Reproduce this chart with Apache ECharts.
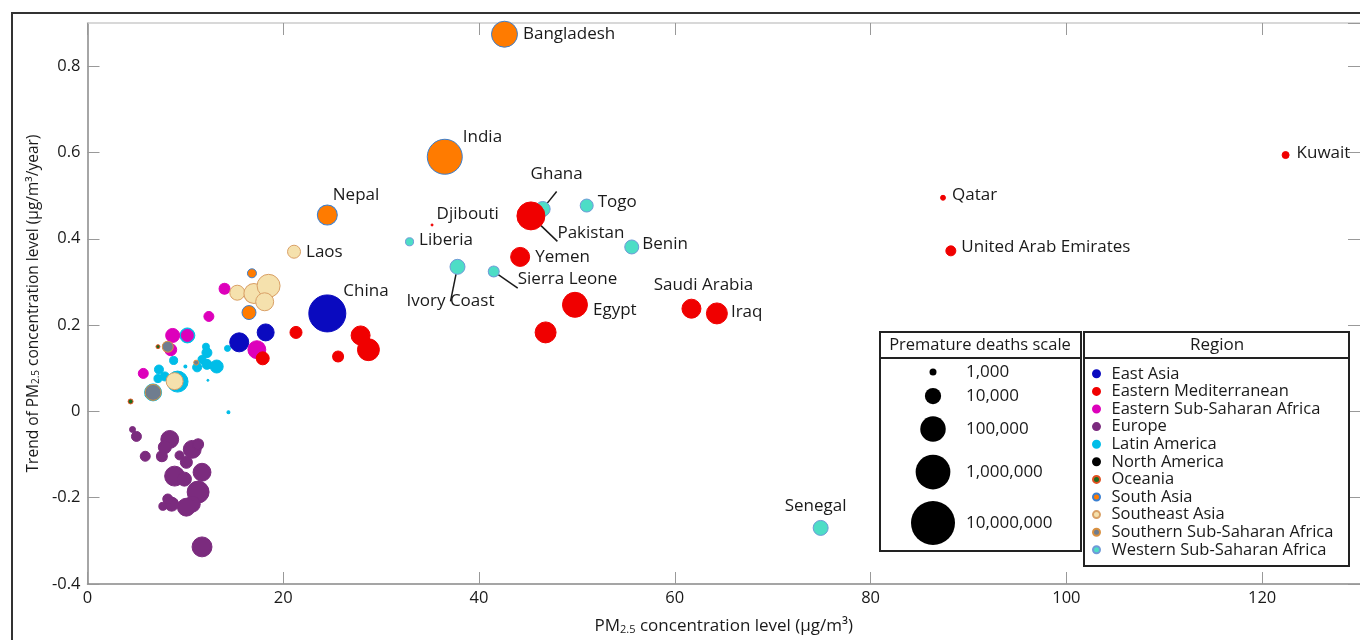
<!DOCTYPE html>
<html>
<head>
<meta charset="utf-8">
<script src="https://cdn.jsdelivr.net/npm/echarts@6/dist/echarts.min.js"></script>
<style>html,body{margin:0;padding:0;background:#fff}#chart{width:1360px;height:640px}</style>
</head>
<body>
<div id="chart"></div>
<script>
// ---- data: [PM2.5 level, trend, premature deaths, country label] ----
const eastAsia = [[24.5,0.227,1750000,'China'],[15.5,0.16,20000,''],[18.2,0.183,12000,'']];
const easternMed = [[45.3,0.453,185000,'Pakistan'],[35.2,0.432,290,'Djibouti'],[44.2,0.358,19800,'Yemen'],[49.8,0.247,88000,'Egypt'],[46.8,0.183,32500,''],[61.7,0.238,19800,'Saudi Arabia'],[64.3,0.227,32500,'Iraq'],[87.4,0.495,600,'Qatar'],[88.2,0.372,2100,'United Arab Emirates'],[122.4,0.594,1000,'Kuwait'],[17.9,0.123,4450,''],[21.3,0.183,3500,''],[27.9,0.176,19800,''],[28.7,0.143,41000,''],[25.6,0.127,2700,'']];
const easternSSA = [[14.0,0.284,2700,''],[12.4,0.22,2100,''],[8.7,0.176,5700,''],[10.2,0.176,3500,''],[8.5,0.143,3500,''],[5.7,0.088,2100,''],[17.3,0.143,15000,'']];
const europe = [[4.6,-0.042,780,''],[5.0,-0.058,2100,''],[5.9,-0.104,2100,''],[7.6,-0.104,2700,''],[8.4,-0.065,15000,''],[7.9,-0.083,4450,''],[9.4,-0.102,1650,''],[10.7,-0.088,15000,''],[11.3,-0.076,2700,''],[10.1,-0.118,3500,''],[11.7,-0.141,15000,''],[8.9,-0.150,25000,''],[9.9,-0.157,5700,''],[11.3,-0.187,41000,''],[10.7,-0.215,9400,''],[10.1,-0.222,15000,''],[8.6,-0.215,5700,''],[8.2,-0.203,2100,''],[7.7,-0.220,1300,''],[11.7,-0.314,25000,'']];
const latinAmerica = [[10.2,0.176,7300,''],[8.8,0.118,1300,''],[7.3,0.097,1650,''],[7.2,0.076,1300,''],[7.9,0.081,1650,''],[9.2,0.069,32500,''],[6.7,0.044,12000,''],[6.1,0.037,470,''],[10.0,0.104,370,''],[12.1,0.150,1000,''],[12.2,0.136,2100,''],[11.7,0.120,1300,''],[11.2,0.102,1650,''],[12.2,0.109,2100,''],[13.2,0.104,4450,''],[12.3,0.072,290,''],[14.3,0.146,780,''],[14.4,-0.002,370,'']];
const northAmerica = [];
const oceania = [[7.2,0.150,470,''],[4.4,0.023,600,'']];
const southAsia = [[42.6,0.874,113000,'Bangladesh'],[36.5,0.59,1066000,'India'],[24.5,0.455,25400,'Nepal'],[16.5,0.229,5700,''],[16.8,0.32,1650,'']];
const southeastAsia = [[21.1,0.37,4450,'Laos'],[15.3,0.275,7300,''],[17.0,0.273,25400,''],[18.5,0.291,53500,''],[18.1,0.254,15400,''],[8.9,0.07,12000,'']];
const southernSSA = [[8.2,0.150,2700,''],[6.7,0.044,9400,''],[11.1,0.113,600,'']];
const westernSSA = [[46.5,0.469,7300,'Ghana'],[51.0,0.477,4450,'Togo'],[32.9,0.393,1300,'Liberia'],[55.6,0.381,5700,'Benin'],[37.8,0.335,7300,'Ivory Coast'],[41.5,0.324,2700,'Sierra Leone'],[74.9,-0.27,7300,'Senegal']];

const regionNames = ['East Asia','Eastern Mediterranean','Eastern Sub-Saharan Africa','Europe','Latin America','North America','Oceania','South Asia','Southeast Asia','Southern Sub-Saharan Africa','Western Sub-Saharan Africa'];
const regionData = [eastAsia, easternMed, easternSSA, europe, latinAmerica, northAmerica, oceania, southAsia, southeastAsia, southernSSA, westernSSA];
const scaleDeaths = [1000, 10000, 100000, 1000000, 10000000];
const scaleLabels = ['1,000','10,000','100,000','1,000,000','10,000,000'];
const xTicks = {min:0, max:130, interval:20};
const yTicks = {min:-0.4, max:0.9, interval:0.2};

// ---- styles ----
const FONT = 'Open Sans';
const regionStyle = [
  {color:'#0a0abf', border:'#0a0abf', z:2},
  {color:'#f00000', border:'#f00000', z:3},
  {color:'#dd00bb', border:'#dd00bb', z:2},
  {color:'#7b2b7e', border:'#7b2b7e', z:2},
  {color:'#00bde8', border:'#00bde8', z:1},
  {color:'#000000', border:'#000000', z:2},
  {color:'#1f6b1f', border:'#e05020', z:2},
  {color:'#ff7b00', border:'#3a7fd0', z:2},
  {color:'#f5e1ad', border:'#d9a066', z:2},
  {color:'#6f7d8f', border:'#d99040', z:2},
  {color:'#4dddc6', border:'#6f9ad8', z:2}
];
const labelCfg = {
  'Bangladesh':{pos:'right', off:[0,0]},
  'India':{pos:'right', off:[-5,-20]},
  'Nepal':{pos:'right', off:[-10,-20]},
  'Laos':{pos:'right', off:[0,0]},
  'China':{pos:'right', off:[-8,-22]},
  'Ghana':{pos:'top', off:[14,-13], line:true},
  'Pakistan':{pos:'right', off:[7,17], line:true},
  'Djibouti':{pos:'right', off:[-2,-11]},
  'Togo':{pos:'right', off:[-1,-3]},
  'Liberia':{pos:'right', off:[0,-2]},
  'Benin':{pos:'right', off:[-2,-3]},
  'Yemen':{pos:'right', off:[0,0]},
  'Ivory Coast':{pos:'bottom', off:[-7,13], line:true},
  'Sierra Leone':{pos:'right', off:[13,8], line:true},
  'Egypt':{pos:'right', off:[0,5]},
  'Saudi Arabia':{pos:'top', off:[12,0]},
  'Iraq':{pos:'right', off:[-2,-1]},
  'Qatar':{pos:'right', off:[1,-3]},
  'United Arab Emirates':{pos:'right', off:[0,-4]},
  'Kuwait':{pos:'right', off:[2,-2]},
  'Senegal':{pos:'top', off:[-5,0]}
};
const sizeOf = d => Math.max(2, 7 + 9.25 * Math.log10(d / 1000));

function mkData(arr){
  return arr.map(p => {
    const item = {value:[p[0], p[1], p[2]], name:p[3]};
    const c = labelCfg[p[3]];
    if (c) {
      item.label = {show:true, position:c.pos, offset:c.off};
      if (c.line) item.labelLine = {show:true};
    }
    return item;
  });
}

const series = regionNames.map((name, i) => ({
  name: name,
  type: 'scatter',
  z: regionStyle[i].z,
  data: mkData(regionData[i]),
  symbolSize: v => sizeOf(v[2]),
  itemStyle: {color: regionStyle[i].color, borderColor: regionStyle[i].border, borderWidth: 1, opacity: 1},
  label: {show:false, formatter:'{b}', fontFamily:FONT, fontSize:17, color:'#1a1a1a', distance:5},
  labelLine: {show:false, lineStyle:{color:'#1a1a1a', width:1.5}},
  emphasis: {disabled:true}
}));

const axisTick = {inside:true, length:12, lineStyle:{color:'#999', width:1}};
const graphics = [
  {type:'rect', shape:{x:12, y:13, width:1400, height:700}, style:{fill:'none', stroke:'#333', lineWidth:2}, silent:true},
  {type:'rect', shape:{x:880, y:332, width:201, height:219}, style:{fill:'#fff', stroke:'#222', lineWidth:2}, z:5},
  {type:'line', shape:{x1:880, y1:358, x2:1081, y2:358}, style:{stroke:'#222', lineWidth:2}, z:6},
  {type:'text', x:980, y:345, style:{text:'Premature deaths scale', font:'16.5px "Open Sans"', fill:'#1a1a1a', align:'center', verticalAlign:'middle'}, z:6},
  {type:'rect', shape:{x:1084, y:332, width:265, height:234}, style:{fill:'#fff', stroke:'#222', lineWidth:2}, z:5},
  {type:'line', shape:{x1:1084, y1:358, x2:1349, y2:358}, style:{stroke:'#222', lineWidth:2}, z:6},
  {type:'text', x:1217, y:345, style:{text:'Region', font:'17px "Open Sans"', fill:'#1a1a1a', align:'center', verticalAlign:'middle'}, z:6}
];
const scaleY = [372, 396, 429, 472, 523];
scaleDeaths.forEach((d, i) => {
  graphics.push({type:'circle', shape:{cx:933, cy:scaleY[i], r:sizeOf(d)/2}, style:{fill:'#000'}, z:6});
  graphics.push({type:'text', x:966, y:scaleY[i], style:{text:scaleLabels[i], font:'17px "Open Sans"', fill:'#1a1a1a', align:'left', verticalAlign:'middle'}, z:6});
});

const nameRich = {
  a:{fontSize:15.5, fontFamily:FONT, color:'#1a1a1a', verticalAlign:'bottom', lineHeight:19},
  s:{fontSize:10, fontFamily:FONT, color:'#1a1a1a', verticalAlign:'bottom', lineHeight:19}
};
const nameRichX = {
  a:{fontSize:17, fontFamily:FONT, color:'#1a1a1a', verticalAlign:'bottom', lineHeight:19},
  s:{fontSize:11, fontFamily:FONT, color:'#1a1a1a', verticalAlign:'bottom', lineHeight:19}
};

const option = {
  animation: false,
  backgroundColor: '#fff',
  textStyle: {fontFamily: FONT},
  grid: {left: 87.5, top: 23, right: -5, bottom: 55, containLabel: false},
  xAxis: [
    {type:'value', position:'bottom', min:xTicks.min, max:xTicks.max, interval:xTicks.interval,
     axisLine:{show:true, onZero:false, lineStyle:{color:'#888', width:1.5}}, axisTick: axisTick,
     axisLabel:{color:'#1a1a1a', fontSize:16.5, fontFamily:FONT, margin:6, showMaxLabel:false},
     splitLine:{show:false},
     name:'{a|PM}{s|2.5}{a| concentration level (µg/m³)}', nameLocation:'middle', nameGap:32,
     nameTextStyle:{rich:nameRichX}},
    {type:'value', position:'top', min:xTicks.min, max:xTicks.max, interval:xTicks.interval,
     axisLine:{show:true, onZero:false, lineStyle:{color:'#ccc', width:1.5}}, axisTick: axisTick,
     axisLabel:{show:false}, splitLine:{show:false}}
  ],
  yAxis: [
    {type:'value', position:'left', min:yTicks.min, max:yTicks.max, interval:yTicks.interval,
     axisLine:{show:true, onZero:false, lineStyle:{color:'#888', width:1.5}}, axisTick: axisTick,
     axisLabel:{color:'#1a1a1a', fontSize:16.5, fontFamily:FONT, margin:7, showMaxLabel:false},
     splitLine:{show:false},
     name:'{a|Trend of PM}{s|2.5}{a| concentration level (µg/m³/year)}', nameLocation:'middle', nameGap:42,
     nameTextStyle:{rich:nameRich}},
    {type:'value', position:'right', min:yTicks.min, max:yTicks.max, interval:yTicks.interval,
     axisLine:{show:false, onZero:false}, axisTick: Object.assign({}, axisTick, {show:true}),
     axisLabel:{show:false}, splitLine:{show:false}}
  ],
  legend: {
    orient:'vertical', left:1087, top:360, itemWidth:16, itemHeight:7, itemGap:0, icon:'circle',
    selectedMode:false, data: regionNames, z:7,
    textStyle:{fontFamily:FONT, fontSize:16.5, color:'#1a1a1a', lineHeight:17.6, padding:[0,0,0,2]}
  },
  graphic: graphics,
  series: series
};

const chart = echarts.init(document.getElementById('chart'), null, {renderer:'canvas'});
chart.setOption(option);
</script>
</body>
</html>
